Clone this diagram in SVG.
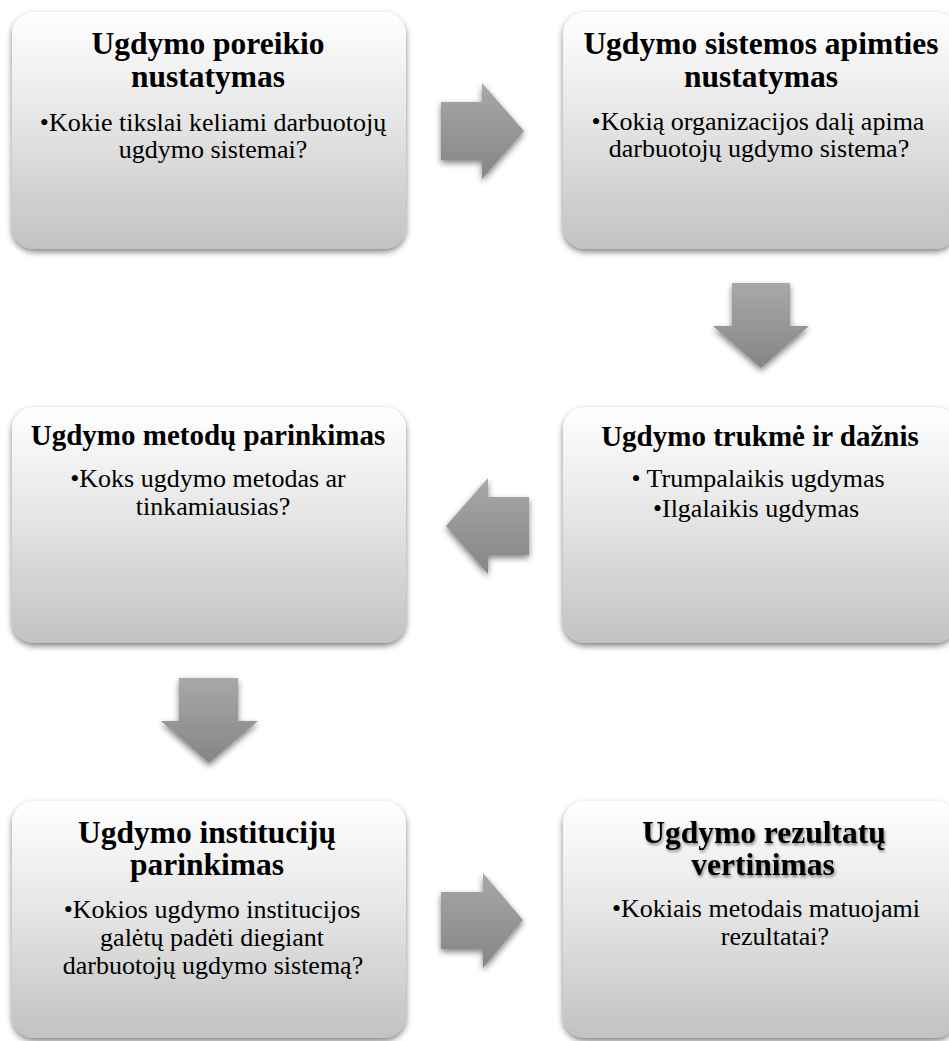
<svg xmlns="http://www.w3.org/2000/svg" width="949" height="1041" viewBox="0 0 949 1041">
<defs>
<linearGradient id="boxGrad" x1="0" y1="0" x2="0" y2="1">
<stop offset="0" stop-color="#ffffff"/>
<stop offset="0.45" stop-color="#e6e6e6"/>
<stop offset="1" stop-color="#c2c2c2"/>
</linearGradient>
<linearGradient id="arrGrad" x1="0" y1="0" x2="0" y2="1">
<stop offset="0" stop-color="#a8a8a8"/>
<stop offset="1" stop-color="#858585"/>
</linearGradient>
<filter id="shadow" x="-10%" y="-10%" width="120%" height="130%">
<feGaussianBlur in="SourceAlpha" stdDeviation="3"/>
<feOffset dx="0" dy="3" result="b"/>
<feComponentTransfer><feFuncA type="linear" slope="0.5"/></feComponentTransfer>
<feMerge><feMergeNode/><feMergeNode in="SourceGraphic"/></feMerge>
</filter>
<filter id="tshadow" x="-10%" y="-20%" width="120%" height="150%">
<feGaussianBlur in="SourceAlpha" stdDeviation="1.5"/>
<feOffset dx="1" dy="2" result="b"/>
<feComponentTransfer><feFuncA type="linear" slope="0.5"/></feComponentTransfer>
<feMerge><feMergeNode/><feMergeNode in="SourceGraphic"/></feMerge>
</filter>
</defs>
<style>
.box{fill:url(#boxGrad);filter:url(#shadow)}
.arr{fill:url(#arrGrad);filter:url(#shadow)}
.t{font-family:"Liberation Serif","Times New Roman",serif;font-weight:bold;font-size:31.5px;fill:#000;text-anchor:middle}
.t2{font-family:"Liberation Serif","Times New Roman",serif;font-weight:bold;font-size:29px;fill:#000;text-anchor:middle}
.b{font-family:"Liberation Serif","Times New Roman",serif;font-size:26px;fill:#000;text-anchor:middle}
</style>
<rect width="949" height="1041" fill="#ffffff"/>
<g id="connectors">
<polygon class="arr" points="441,102 482,102 482,83 524,131 482,179 482,160 441,160"/>
<polygon class="arr" points="732,283 790,283 790,326 809,326 761,368 713,326 732,326"/>
<polygon class="arr" points="529,497 488,497 488,478 446,526 488,574 488,555 529,555"/>
<polygon class="arr" points="179,678 238,678 238,721 258,721 209,763 161,721 179,721"/>
<polygon class="arr" points="441,892 483,892 483,873 523,920 483,968 483,949 441,949"/>
</g>
<g id="n1">
<rect class="box" x="12" y="12" width="394" height="237" rx="22"/>
<text class="t" x="208" y="54">Ugdymo poreikio</text>
<text class="t" x="208" y="87">nustatymas</text>
<text class="b" x="213" y="131">•Kokie tikslai keliami darbuotojų</text>
<text class="b" x="213" y="158">ugdymo sistemai?</text>
</g>
<g id="n2">
<rect class="box" x="563" y="12" width="394" height="237" rx="22"/>
<text class="t" x="761" y="54">Ugdymo sistemos apimties</text>
<text class="t" x="761" y="87">nustatymas</text>
<text class="b" x="758" y="130">•Kokią organizacijos dalį apima</text>
<text class="b" x="759" y="157">darbuotojų ugdymo sistema?</text>
</g>
<g id="n3">
<rect class="box" x="12" y="407" width="394" height="236" rx="22"/>
<text class="t2" x="208" y="445">Ugdymo metodų parinkimas</text>
<text class="b" x="208" y="487">•Koks ugdymo metodas ar</text>
<text class="b" x="213" y="515">tinkamiausias?</text>
</g>
<g id="n4">
<rect class="box" x="563" y="407" width="394" height="236" rx="22"/>
<text class="t2" x="760" y="446">Ugdymo trukmė ir dažnis</text>
<text class="b" x="758" y="487">• Trumpalaikis ugdymas</text>
<text class="b" x="756" y="517">•Ilgalaikis ugdymas</text>
</g>
<g id="n5">
<rect class="box" x="12" y="801" width="394" height="237" rx="22"/>
<text class="t" x="207" y="843">Ugdymo institucijų</text>
<text class="t" x="207" y="875">parinkimas</text>
<text class="b" x="212" y="918">•Kokios ugdymo institucijos</text>
<text class="b" x="212" y="946">galėtų padėti diegiant</text>
<text class="b" x="213" y="974">darbuotojų ugdymo sistemą?</text>
</g>
<g id="n6">
<rect class="box" x="563" y="801" width="394" height="237" rx="22"/>
<text class="t" x="764" y="843" filter="url(#tshadow)">Ugdymo rezultatų</text>
<text class="t" x="763" y="875" filter="url(#tshadow)">vertinimas</text>
<text class="b" x="766" y="917">•Kokiais metodais matuojami</text>
<text class="b" x="775" y="945">rezultatai?</text>
</g>
</svg>
